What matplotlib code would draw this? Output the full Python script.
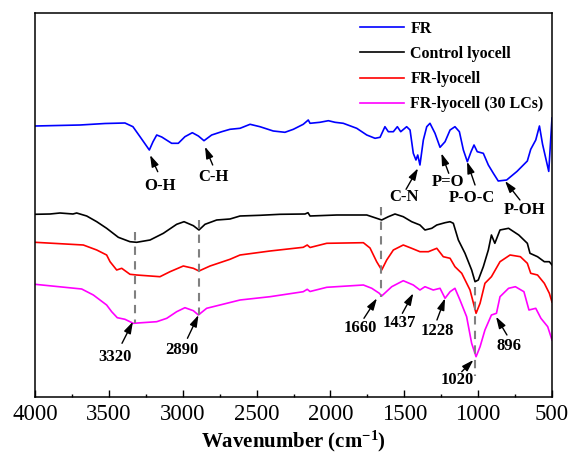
import matplotlib
matplotlib.use("Agg")
import matplotlib.pyplot as plt

# FTIR spectra, values (transmittance, arbitrary offset units)
fr_wn = [4000, 3695, 3526, 3391, 3337, 3289, 3226, 3201, 3176, 3142, 3075, 3030, 2985,
         2935, 2894, 2856, 2804, 2736, 2680, 2612, 2544, 2477, 2387, 2308, 2251, 2184,
         2150, 2138, 2071, 2014, 1969, 1913, 1822, 1754, 1698, 1664, 1631, 1608, 1574,
         1547, 1524, 1484, 1461, 1439, 1421, 1409, 1394, 1371, 1348, 1326, 1292, 1258,
         1224, 1190, 1157, 1127, 1100, 1073, 1048, 1028, 1006, 965, 931, 897, 864, 807,
         737, 667, 644, 610, 585, 564, 522, 507, 500]
fr_t = [271, 272, 273.5, 274, 270.3, 260.3, 247, 255.3, 262, 260, 253.7, 253.7, 260.3,
        264.3, 261, 256.3, 262, 265.3, 267.7, 268.7, 272.7, 270.3, 266, 264.7, 267.7, 272.7,
        277, 273.7, 274.7, 276.3, 274.7, 273.7, 268.7, 262, 258.7, 259.7, 270.3, 265.3, 265.3,
        270.3, 265.3, 270.3, 267, 243.7, 237, 242, 232, 257, 270.3, 273.7, 263.7, 249.7,
        255.3, 267, 270.3, 265.3, 247, 235.3, 245.3, 252, 245.3, 243.7, 232, 223.7, 216, 217,
        225.6, 236, 247.7, 257, 271, 252.8, 225.6, 262, 279]

ctrl_wn = [4000, 3898, 3831, 3743, 3718, 3650, 3582, 3515, 3436, 3357, 3312, 3221, 3131,
           3041, 2991, 2928, 2890, 2849, 2770, 2680, 2612, 2477, 2341, 2172, 2152, 2138,
           1957, 1754, 1687, 1653, 1608, 1563, 1507, 1450, 1394, 1360, 1314, 1280, 1224,
           1190, 1168, 1134, 1089, 1044, 1021, 999, 965, 931, 910, 887, 852, 794, 725, 667,
           649, 598, 552, 518, 500]
ctrl_t = [182.7, 183, 184, 183, 184, 181, 175.3, 168.7, 159.7, 155.3, 154.7, 157, 163.7,
          172.7, 175.3, 171.3, 167, 172.7, 177, 178, 181, 181.7, 182.7, 183, 184.3, 181,
          182, 182, 178.7, 177, 180.3, 183, 180.3, 175.3, 172, 167, 168.7, 172, 174.3,
          175.3, 173.7, 157, 143.7, 127, 115.3, 117, 130.3, 147, 162, 153.7, 167, 168.7, 162,
          153.7, 143.7, 140.3, 135.3, 135.3, 132]

frl_wn = [4000, 3673, 3582, 3515, 3492, 3447, 3413, 3357, 3312, 3154, 3086, 2996, 2928,
          2890, 2815, 2680, 2612, 2409, 2184, 2157, 2138, 2025, 1777, 1732, 1687, 1653,
          1619, 1574, 1507, 1450, 1394, 1337, 1280, 1236, 1190, 1157, 1111, 1055, 1014, 987,
          954, 910, 852, 784, 714, 667, 644, 598, 552, 518, 500]
frl_t = [154.7, 152, 147, 142, 135.3, 127, 128.7, 122.7, 122, 120.3, 125.3, 131, 128.7,
         126, 131, 137.7, 142, 146, 149.7, 152, 149.5, 153.7, 154.3, 149, 135.3, 127,
         137, 147, 152, 148.7, 145.3, 145.3, 148.7, 140.3, 138.7, 130.3, 123.7, 107, 83.7, 93.7,
         113.7, 120.3, 135.3, 142, 140.3, 133.7, 123.7, 122, 113.7, 103.7, 95]

lc_wn = [4000, 3684, 3605, 3515, 3481, 3443, 3391, 3335, 3176, 3108, 3041, 2985, 2928,
         2894, 2838, 2748, 2612, 2409, 2184, 2157, 2138, 2025, 1777, 1720, 1669, 1653,
         1585, 1507, 1439, 1394, 1360, 1304, 1258, 1224, 1190, 1157, 1123, 1078, 1044, 1014,
         987, 954, 910, 876, 852, 794, 748, 690, 656, 610, 575, 529, 500]
lc_t = [112.7, 108, 102, 92, 85.3, 79.3, 77.7, 73.7, 75.3, 78.7, 85.3, 89.3, 86.3,
        82, 88.7, 92, 97, 100.3, 105.3, 107.7, 105.5, 109.7, 112, 108.7, 103.7, 101,
        110.3, 116.3, 112, 107, 110.3, 107, 108.7, 98.7, 105.3, 108.7, 97, 80.3, 53.7, 40.3,
        50.3, 67, 82, 83.7, 100.3, 108.7, 110.3, 105.3, 87, 88.7, 78.7, 70.3, 57]

series_labels = ["FR", "Control lyocell", "FR-lyocell", "FR-lyocell (30 LCs)"]
series_colors = ["#0000ff", "#000000", "#ff0000", "#ff00ff"]

# band assignments: label, text position, arrow tail, arrow tip
band_labels = ["O-H", "C-H", "C-N", "P=O", "P-O-C", "P-OH",
               "3320", "2890", "1660", "1437", "1228", "1020", "896"]
band_text = [(3154, 211), (2795, 220), (1505, 200.3), (1204, 215.3), (1044, 199.3), (683, 187),
             (3460, 40.3), (3005, 47), (1796, 69), (1532, 74.3), (1279, 66.3), (1143, 17), (791, 51)]
band_tail = [(3169, 225.3), (2797, 232), (1488, 207.7), (1199, 223.7), (1021, 212), (717, 197),
             (3411, 53.7), (2968, 58.7), (1773, 78.7), (1513, 83.7), (1279, 77), (1111, 25.3), (805, 62)]
band_tip = [(3221, 242), (2849, 250.3), (1407, 228.7), (1249, 243.7), (1075, 235.3), (818, 216),
            (3337, 75.3), (2893, 82), (1685, 98.7), (1439, 103.7), (1224, 98.7), (1032, 37), (879, 80.3)]

# dashed guide lines
guide_wn = [3320, 2890, 1660, 1020]
guide_top = [165.3, 177, 190.3, 110]
guide_bottom = [73.7, 82, 100.3, 21]

plt.rcParams['font.family'] = ['Liberation Serif', 'DejaVu Serif']
plt.rcParams['mathtext.fontset'] = 'custom'
plt.rcParams['mathtext.rm'] = 'Liberation Serif:bold'
plt.rcParams['mathtext.default'] = 'rm'

fig = plt.figure(figsize=(5.71, 4.54), dpi=100)
ax = fig.add_axes([35 / 571, 57 / 454, 517 / 571, 384 / 454])

for wn, t, lab, col in zip([fr_wn, ctrl_wn, frl_wn, lc_wn], [fr_t, ctrl_t, frl_t, lc_t],
                           series_labels, series_colors):
    ax.plot(wn, t, color=col, lw=1.2, label=lab, solid_joinstyle="round")

for w, top, bot in zip(guide_wn, guide_top, guide_bottom):
    ax.plot([w, w], [top, bot], color="#808080", lw=1.5, ls=(0, (4, 3)), zorder=3)

for lab, txt, tail, tip in zip(band_labels, band_text, band_tail, band_tip):
    ax.annotate("", xy=tip, xytext=tail,
                arrowprops=dict(arrowstyle="-|>,head_length=0.7,head_width=0.22",
                                color="k", lw=1.0, shrinkA=0, shrinkB=0))
    ax.text(txt[0], txt[1], lab, ha="center", va="center", fontsize=12, fontweight="bold")

ax.set_xlim(4000, 500)
ax.set_ylim(0, 384)
ax.set_xticks(range(4000, 499, -500))
ax.set_xticks(range(3750, 500, -500), minor=True)
ax.set_yticks([])
ax.tick_params(axis="x", which="major", direction="in", length=5, width=1, labelsize=16.5, pad=5)
ax.tick_params(axis="x", which="minor", direction="in", length=2.5, width=1)
for sp in ax.spines.values():
    sp.set_linewidth(1.1)

ax.set_xlabel("Wavenumber (cm$^{-1}$)", fontsize=15, fontweight="bold", labelpad=3)

leg = ax.legend(loc="upper left", bbox_to_anchor=(0.6286, 0.98), frameon=False,
                prop=dict(family="Liberation Serif", weight="bold", size=11.5),
                handlelength=2.75, handletextpad=0.4, labelspacing=0.58,
                borderpad=0, borderaxespad=0)

fig.savefig("out.png", dpi=100)
